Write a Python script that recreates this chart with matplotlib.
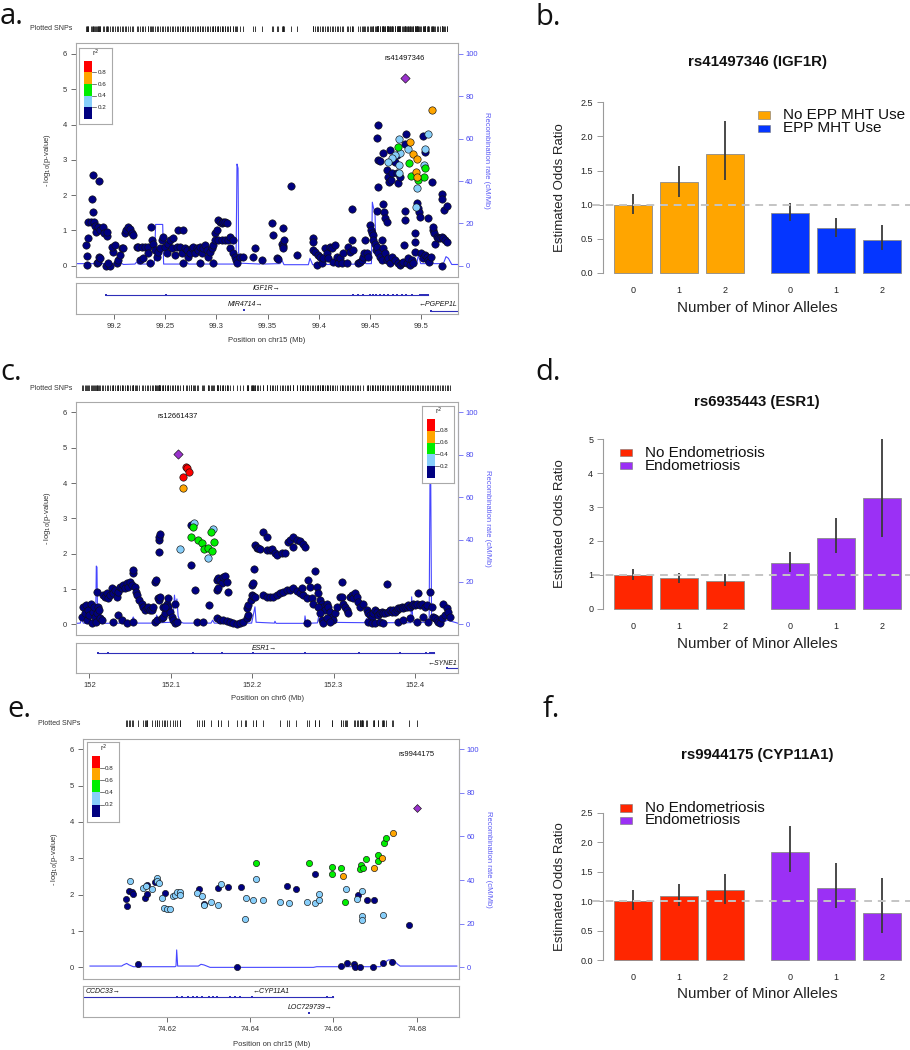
import numpy as np
import matplotlib
matplotlib.use('Agg')
import matplotlib.pyplot as plt
from matplotlib.patches import Rectangle

plt.rcParams['font.family'] = ['Liberation Sans', 'DejaVu Sans']

# ------------------------------------------------------------------
# DATA : panel a  (chr15, IGF1R region)
# ------------------------------------------------------------------
a_dark = [(99.1726,0.59),(99.1733,0.28),(99.1739,0.02),(99.1749,0.78),(99.1749,1.25),(99.1772,1.25),
 (99.1782,1.90),(99.1798,2.57),(99.1798,1.51),(99.1808,1.25),(99.1814,1.14),(99.1831,0.07),(99.1847,0.11),
 (99.1857,2.40),(99.1857,0.26),(99.1863,0.21),(99.1824,0.95),(99.1847,1.11),(99.1863,1.01),(99.1896,1.11),
 (99.1906,0.92),(99.1928,0.84),(99.1935,0.96),(99.1922,0.0),(99.1961,0.0),(99.1945,0.07),(99.1993,0.40),
 (99.1977,0.54),(99.2010,0.59),(99.2026,0.07),(99.2042,0.16),(99.2059,0.30),(99.2075,0.49),(99.2091,0.49),
 (99.2107,0.92),(99.2117,1.01),(99.2140,1.11),(99.2156,1.03),(99.2173,0.94),(99.2189,0.87),(99.2221,0.54),
 (99.2238,0.54),(99.2270,0.54),(99.2303,0.54),(99.2336,0.54),(99.2254,0.16),(99.2287,0.21),(99.2358,1.11),
 (99.2336,0.35),(99.2352,0.07),(99.2368,0.73),(99.2384,0.63),(99.2401,0.44),(99.2417,0.26),(99.2433,0.40),
 (99.2450,0.49),(99.2466,0.73),(99.2482,0.82),(99.2498,0.54),(99.2515,0.35),(99.2531,0.63),(99.2547,0.73),
 (99.2580,0.78),(99.2564,0.49),(99.2596,0.30),(99.2629,1.01),(99.2678,1.01),(99.2612,0.54),(99.2645,0.54),
 (99.2661,0.35),(99.2694,0.49),(99.2710,0.44),(99.2726,0.26),(99.2743,0.35),(99.2759,0.49),(99.2775,0.54),
 (99.2792,0.35),(99.2808,0.49),(99.2824,0.44),(99.2840,0.54),(99.2857,0.35),(99.2873,0.49),(99.2889,0.59),
 (99.2906,0.44),(99.2922,0.26),(99.2938,0.40),(99.2954,0.49),(99.2971,0.59),(99.2678,0.07),(99.2840,0.07),
 (99.2964,0.07),(99.2987,0.92),(99.3003,1.01),(99.3020,1.29),(99.3036,1.25),(99.3052,1.20),(99.3068,1.25),
 (99.3085,1.25),(99.3101,1.20),(99.2987,0.73),(99.3020,0.73),(99.3052,0.73),(99.3085,0.73),(99.3117,0.73),
 (99.3134,0.82),(99.3166,0.73),(99.3134,0.49),(99.3166,0.35),(99.3182,0.26),(99.3192,0.16),(99.3205,0.07),
 (99.3231,0.24),(99.3264,0.26),(99.3362,0.26),(99.3378,0.49),(99.3443,0.16),(99.3541,1.20),(99.3550,0.87),
 (99.3590,0.21),(99.3606,0.19),(99.3638,0.63),(99.3648,0.56),(99.3655,0.49),(99.3661,0.73),(99.3648,1.06),
 (99.3730,2.27),(99.3785,0.30),(99.3941,0.80),(99.3948,0.68),(99.3948,0.44),(99.3964,0.40),(99.3980,0.02),
 (99.3997,0.30),(99.4013,0.26),(99.4029,0.07),(99.4046,0.21),(99.4062,0.49),(99.4078,0.35),(99.4094,0.21),
 (99.4111,0.54),(99.4127,0.49),(99.4143,0.11),(99.4160,0.59),(99.4176,0.26),(99.4192,0.07),(99.4208,0.21),
 (99.4225,0.07),(99.4241,0.35),(99.4274,0.07),(99.4290,0.54),(99.4306,0.40),(99.4322,0.73),(99.4322,1.60),
 (99.4339,0.44),(99.4388,0.07),(99.4404,0.11),(99.4420,0.16),(99.4436,0.26),(99.4443,0.35),(99.4453,0.73),
 (99.4469,0.35),(99.4485,0.26),(99.4502,1.15),(99.4508,1.01),(99.4518,0.92),(99.4528,0.87),(99.4534,0.73),
 (99.4550,0.63),(99.4560,0.44),(99.4567,0.54),(99.4577,0.35),(99.4567,3.61),(99.4577,3.99),(99.4583,3.00),
 (99.4599,2.97),(99.4577,2.22),(99.4567,1.56),(99.4599,0.26),(99.4616,0.16),(99.4632,1.75),(99.4638,1.51),
 (99.4648,1.34),(99.4664,1.25),(99.4671,2.71),(99.4681,2.52),(99.4691,2.38),(99.4704,2.43),(99.4713,2.62),
 (99.4632,3.19),(99.4697,3.28),(99.4730,3.00),(99.4746,2.95),(99.4762,3.14),(99.4762,2.62),(99.4779,2.33),
 (99.4795,2.52),(99.4616,0.73),(99.4632,0.49),(99.4648,0.35),(99.4664,0.16),(99.4681,0.21),(99.4697,0.07),
 (99.4713,0.26),(99.4746,0.16),(99.4779,0.07),(99.4795,0.02),(99.4811,0.07),(99.4827,0.11),(99.4837,0.59),
 (99.4844,1.29),(99.4844,1.56),(99.4853,3.73),(99.4844,3.45),(99.4860,0.07),(99.4876,0.21),(99.4893,0.02),
 (99.4909,0.16),(99.4925,0.07),(99.4941,0.92),(99.4941,0.68),(99.4941,0.40),(99.4958,1.77),(99.4974,1.63),
 (99.4984,1.51),(99.4990,1.39),(99.4997,0.35),(99.5016,0.21),(99.5039,0.30),(99.5055,0.26),(99.5072,0.16),
 (99.5081,0.11),(99.5094,0.26),(99.5023,3.68),(99.5039,3.23),(99.5072,1.34),(99.5104,2.38),(99.5114,1.01),
 (99.5127,0.92),(99.5121,1.09),(99.5137,0.63),(99.5153,0.82),(99.5169,0.80),(99.5186,0.78),(99.5202,0.82),
 (99.5218,0.78),(99.5235,0.73),(99.5251,0.68),(99.5202,2.02),(99.5202,1.89),(99.5228,1.58),(99.5257,1.70),
 (99.5202,0.0)]
a_lblue = [(99.4785,3.58),(99.4876,3.31),(99.4795,3.20),(99.4746,3.14),(99.4713,3.04),(99.4681,2.95),
 (99.4788,2.85),(99.4788,2.62),(99.5033,2.85),(99.4964,2.19),(99.4951,1.65),(99.5068,3.73),(99.5039,3.31)]
a_green = [(99.4779,3.37),(99.4886,2.90),(99.4899,2.55),(99.4974,2.43),(99.5029,2.50),(99.5039,2.76)]
a_orange = [(99.5104,4.41),(99.4893,3.50),(99.4925,3.17),(99.4958,3.02),(99.4951,2.65),(99.4958,2.50)]
a_red = []
a_lead = (99.4844, 5.31)
a_lead_name = 'rs41497346'

a_rec_pos = [99.1629,99.1993,99.2026,99.2046,99.2065,99.2091,99.2205,99.2221,99.2238,99.2394,99.2407,
 99.2476,99.2485,99.2694,99.2710,99.2730,99.2938,99.2954,99.2971,99.3192,99.3202,99.3212,99.3218,99.3238,
 99.3427,99.3443,99.3459,99.3622,99.3642,99.3661,99.3899,99.3915,99.3941,99.4420,99.4443,99.4463,99.4515,
 99.4524,99.4537,99.4550,99.4560,99.4599,99.4648,99.4681,99.4958,99.4974,99.4997,99.5218,99.5244,99.5267,
 99.5300,99.5358]
a_rec_rate = [1.0,1.0,2.0,4.6,1.5,0.6,0.8,1.8,0.8,0.8,19.5,19.5,0.8,0.8,1.8,0.8,0.8,1.6,0.8,0.8,48,46,6,1.2,
 0.8,2.2,0.8,1.0,2.5,0.5,0.5,3.5,0.5,0.8,2.0,1.0,1.0,30,27,25,6,3,3.5,1,1,5,1,1,4.3,3.5,0.6,0.6]

a_ticks = [99.2, 99.25, 99.3, 99.35, 99.4, 99.45, 99.5]
a_ticklabels = ['99.2', '99.25', '99.3', '99.35', '99.4', '99.45', '99.5']
a_xlabel = 'Position on chr15 (Mb)'

a_genes = [
    dict(name='IGF1R\u2192', start=99.1922, end=99.5072, row=0.62, lab_x=99.3492, lab_y=0.82, ha='center',
         exons=[99.1922, 99.2505, 99.4339, 99.4388, 99.4436, 99.4502, 99.4528, 99.4560, 99.4599, 99.4638,
                99.4681, 99.4723, 99.4762, 99.4811, 99.4853, 99.4909, 99.4990, 99.5010, 99.5030, 99.5050, 99.5072]),
    dict(name='MIR4714\u2192', start=None, end=None, row=0.14, lab_x=99.3280, lab_y=0.30, ha='center',
         exons=[99.3274]),
    dict(name='\u2190PGPEP1L', start=99.5098, end=99.5358, row=0.12, lab_x=99.5350, lab_y=0.30, ha='right',
         exons=[99.5098]),
]

# ------------------------------------------------------------------
# DATA : panel c  (chr6, ESR1 region)
# ------------------------------------------------------------------
c_dark = [(151.9897,0.22),(151.9918,0.50),(151.9938,0.31),(151.9951,0.55),(151.9967,0.12),(151.9979,0.41),
 (151.9992,0.26),(152.0008,0.59),(152.0021,0.03),(152.0033,0.36),(152.0049,0.50),(152.0062,0.22),
 (152.0074,0.08),(152.0082,0.91),(152.0090,0.31),(152.0103,0.50),(152.0115,0.41),(152.0123,0.17),
 (152.0144,0.12),(152.0164,0.83),(152.0185,0.78),(152.0205,0.88),(152.0226,0.74),(152.0246,0.83),
 (152.0267,1.02),(152.0287,0.88),(152.0308,0.97),(152.0328,0.78),(152.0349,0.92),(152.0369,1.07),
 (152.0390,1.02),(152.0410,1.11),(152.0431,1.02),(152.0451,1.16),(152.0472,1.07),(152.0492,1.21),
 (152.0513,1.11),(152.0525,1.44),(152.0533,1.54),(152.0554,1.07),(152.0566,0.92),(152.0583,0.83),
 (152.0607,0.69),(152.0636,0.59),(152.0657,0.50),(152.0677,0.41),(152.0698,0.45),(152.0718,0.50),
 (152.0739,0.41),(152.0759,0.41),(152.0780,0.50),(152.0287,0.08),(152.0349,0.26),(152.0390,0.12),
 (152.0451,0.03),(152.0533,0.08),(152.0800,1.19),(152.0812,1.25),(152.0800,0.08),(152.0821,0.12),
 (152.0841,0.74),(152.0854,0.69),(152.0862,0.78),(152.0854,2.39),(152.0854,2.48),(152.0862,2.55),
 (152.0854,2.06),(152.0882,0.17),(152.0903,0.22),(152.0923,0.31),(152.0944,0.59),(152.0964,0.50),
 (152.0985,0.36),(152.1005,0.22),(152.1026,0.12),(152.1046,0.59),(152.1046,0.03),(152.1075,0.08),
 (152.0895,0.50),(152.0923,0.50),(152.0964,0.74),(152.1243,2.81),(152.1247,1.68),(152.1293,0.97),
 (152.1313,0.08),(152.1395,0.08),(152.1469,0.55),(152.1559,1.25),(152.1580,1.30),(152.1600,1.25),
 (152.1621,1.16),(152.1641,1.33),(152.1662,1.37),(152.1682,1.21),(152.1695,0.92),(152.1559,0.97),
 (152.1580,1.02),(152.1559,0.17),(152.1600,0.12),(152.1641,0.12),(152.1682,0.09),(152.1723,0.08),
 (152.1764,0.03),(152.1806,0.01),(152.1847,0.03),(152.1888,0.08),(152.1929,0.17),(152.1949,0.26),
 (152.1929,0.45),(152.1949,0.55),(152.1978,0.69),(152.1990,1.11),(152.1994,0.83),(152.2002,1.16),
 (152.2011,0.80),(152.2019,1.58),(152.2031,0.78),(152.2031,2.25),(152.2052,2.15),(152.2072,2.15),
 (152.2093,2.12),(152.2134,2.62),(152.2175,2.48),(152.2134,0.83),(152.2175,0.78),(152.2216,0.78),
 (152.2257,0.78),(152.2298,0.83),(152.2339,0.88),(152.2380,0.92),(152.2421,0.97),(152.2462,0.97),
 (152.2503,1.02),(152.2544,0.95),(152.2585,0.88),(152.2626,0.83),(152.2175,2.10),(152.2216,2.10),
 (152.2236,2.12),(152.2277,2.01),(152.2298,1.96),(152.2360,2.01),(152.2401,2.01),(152.2442,2.34),
 (152.2462,2.39),(152.2495,2.20),(152.2503,2.46),(152.2544,2.39),(152.2585,2.37),(152.2626,2.27),
 (152.2647,2.18),(152.2606,1.02),(152.2667,0.74),(152.2667,0.03),(152.2688,1.25),(152.2708,1.07),
 (152.2729,0.74),(152.2749,0.59),(152.2770,1.52),(152.2790,1.07),(152.2811,0.88),(152.2831,0.69),
 (152.2852,0.59),(152.2872,0.50),(152.2893,0.41),(152.2913,0.59),(152.2934,0.50),(152.2954,0.36),
 (152.2975,0.22),(152.2995,0.12),(152.3016,0.31),(152.3037,0.50),(152.2811,0.50),(152.2831,0.31),
 (152.2852,0.12),(152.2872,0.03),(152.2913,0.17),(152.2954,0.08),(152.3098,1.21),(152.3078,0.78),
 (152.3098,0.78),(152.3119,0.59),(152.3139,0.50),(152.3160,0.41),(152.3180,0.31),(152.3201,0.78),
 (152.3221,0.83),(152.3242,0.74),(152.3262,0.88),(152.3283,0.78),(152.3303,0.64),(152.3324,0.50),
 (152.3365,0.59),(152.3406,0.41),(152.3426,0.31),(152.3447,0.26),(152.3467,0.22),(152.3488,0.31),
 (152.3508,0.41),(152.3529,0.36),(152.3549,0.26),(152.3570,0.31),(152.3590,0.36),(152.3611,0.31),
 (152.3632,0.31),(152.3652,1.13),(152.3426,0.08),(152.3467,0.03),(152.3508,0.03),(152.3570,0.08),
 (152.3611,0.03),(152.3673,0.36),(152.3693,0.41),(152.3714,0.36),(152.3734,0.41),(152.3755,0.36),
 (152.3775,0.41),(152.3796,0.45),(152.3816,0.45),(152.3837,0.50),(152.3857,0.45),(152.3878,0.50),
 (152.3898,0.50),(152.3919,0.55),(152.3939,0.50),(152.3960,0.55),(152.3980,0.59),(152.4001,0.55),
 (152.4021,0.59),(152.4042,0.88),(152.4062,0.55),(152.4083,0.59),(152.4103,0.22),(152.4124,0.50),
 (152.4144,0.55),(152.3796,0.08),(152.3857,0.12),(152.3939,0.17),(152.4021,0.08),(152.4165,0.08),
 (152.4185,0.91),(152.4206,0.50),(152.4226,0.22),(152.4247,0.17),(152.4268,0.12),(152.4288,0.08),
 (152.4309,0.03),(152.4329,0.17),(152.4350,0.59),(152.4370,0.26),(152.4391,0.45),(152.4411,0.36),
 (152.4432,0.22)]
c_lblue = [(152.1276,2.88),(152.1112,2.13),(152.1510,2.69),(152.1457,1.87)]
c_green = [(152.1264,2.75),(152.1243,2.48),(152.1325,2.39),(152.1375,2.29),(152.1403,2.13),(152.1457,2.15),
 (152.1506,2.08),(152.1531,2.34),(152.1494,2.62)]
c_orange = [(152.1145,3.85)]
c_red = [(152.1178,4.46),(152.1198,4.42),(152.1145,4.18),(152.1223,4.30)]
c_lead = (152.1079, 4.83)
c_lead_name = 'rs12661437'

c_rec_pos = [151.9828,151.9880,151.9897,151.9918,152.0070,152.0078,152.0086,152.0094,152.0130,152.0500,
 152.0533,152.0560,152.0800,152.0821,152.0845,152.1020,152.1040,152.1055,152.1070,152.1085,152.1110,
 152.1150,152.1490,152.1510,152.1530,152.1990,152.2031,152.2045,152.2270,152.2277,152.2290,152.2640,
 152.2647,152.2660,152.2800,152.2831,152.2870,152.3380,152.3406,152.3440,152.3950,152.3960,152.3975,
 152.4175,152.4185,152.4195,152.4205,152.4250,152.4300,152.4350,152.4400,152.4534]
c_rec_rate = [0.5,0.6,2.8,0.6,0.6,27.5,27,1.0,0.5,0.6,3.5,0.6,0.6,4.4,0.8,1.0,13.8,8,12,4,1.2,0.6,0.6,2,
 0.6,0.6,8.3,1,0.6,1.5,0.5,0.5,4,0.5,0.7,6.7,1.0,0.8,2.8,0.8,0.8,13,1,1,66,66,2,1.2,2,1,2,0.5]

c_ticks = [152.0, 152.1, 152.2, 152.3, 152.4]
c_ticklabels = ['152', '152.1', '152.2', '152.3', '152.4']
c_xlabel = 'Position on chr6 (Mb)'

c_genes = [
    dict(name='ESR1\u2192', start=152.0108, end=152.4235, row=0.667, lab_x=152.2149, lab_y=0.83, ha='center',
         exons=[152.0108, 152.0232, 152.1278, 152.1628, 152.2005, 152.2650, 152.3319, 152.3812, 152.4140,
                152.4180, 152.4200, 152.4220, 152.4235]),
    dict(name='\u2190SYNE1', start=152.4400, end=152.4534, row=0.17, lab_x=152.4520, lab_y=0.33, ha='right',
         exons=[152.4400]),
]

# ------------------------------------------------------------------
# DATA : panel e  (chr15, CYP11A1 region)
# ------------------------------------------------------------------
e_dark = [(74.61024,1.88),(74.6104,1.69),(74.61104,2.10),(74.6116,2.06),(74.612,2.02),(74.6148,1.90),
 (74.6152,2.27),(74.61536,2.02),(74.6172,2.36),(74.6196,2.04),(74.62776,2.15),(74.62896,1.73),
 (74.63224,2.19),(74.6348,2.20),(74.63776,2.20),(74.64896,2.24),(74.65104,2.16),(74.65568,2.56),
 (74.666,1.99),(74.668,1.85),(74.66976,1.85),(74.67816,1.17),(74.61304,0.08),(74.63696,0.0),
 (74.66184,0.04),(74.6632,0.13),(74.66496,0.09),(74.6652,0.0),(74.6664,0.0),(74.66944,0.0),
 (74.672,0.11),(74.674,0.16)]
e_lblue = [(74.6112,2.38),(74.61424,2.19),(74.61504,2.24),(74.6164,2.16),(74.6176,2.47),(74.6178,2.38),
 (74.61824,2.31),(74.6188,1.90),(74.61936,1.64),(74.62,1.61),(74.6208,1.60),(74.62144,1.96),(74.622,1.99),
 (74.6224,2.07),(74.6232,2.07),(74.6232,1.99),(74.6272,2.04),(74.6284,1.96),(74.62896,1.72),(74.63064,1.81),
 (74.6324,1.72),(74.63296,2.28),(74.63896,1.90),(74.6388,1.33),(74.64064,1.85),(74.64144,2.42),
 (74.64304,1.85),(74.6472,1.81),(74.64936,1.78),(74.6536,1.80),(74.6556,1.76),(74.65664,2.01),
 (74.65664,1.85),(74.66304,2.16),(74.6656,1.88),(74.6668,2.10),(74.6668,1.41),(74.6668,1.30),(74.672,1.44)]
e_green = [(74.64144,2.88),(74.65416,2.88),(74.6596,2.77),(74.6596,2.57),(74.66184,2.72),(74.6628,1.79),
 (74.66656,2.82),(74.6664,2.70),(74.6672,2.74),(74.66784,2.97),(74.6708,3.09),(74.6708,2.93),
 (74.67216,3.43),(74.67264,3.55)]
e_orange = [(74.67424,3.69),(74.6716,3.00),(74.66976,2.72),(74.6624,2.50)]
e_red = []
e_lead = (74.6800, 4.38)
e_lead_name = 'rs9944175'

e_rec_pos = [74.6016,74.6092,74.6096,74.6104,74.6110,74.6120,74.6220,74.62224,74.6224,74.62264,74.6276,
 74.62824,74.62896,74.6304,74.6552,74.6560,74.6712,74.6720,74.6732,74.6744,74.67536,74.6760,74.6896]
e_rec_rate = [0.6,0.6,1.1,1.8,1.1,0.3,0.3,0.6,8.0,0.6,0.6,1.4,1.1,0.0,0.0,0.3,0.3,1.8,3.4,3.4,1.5,0.6,0.6]

e_ticks = [74.62, 74.64, 74.66, 74.68]
e_ticklabels = ['74.62', '74.64', '74.66', '74.68']
e_xlabel = 'Position on chr15 (Mb)'

e_genes = [
    dict(name='CCDC33\u2192', start=74.6000, end=74.6600, row=0.64, lab_x=74.6006, lab_y=0.82, ha='left',
         exons=[74.6224, 74.6236, 74.6252, 74.62624, 74.6272, 74.6284, 74.63024, 74.6312, 74.632, 74.6352,
                74.6364, 74.6376, 74.6404, 74.6584, 74.65984]),
    dict(name='\u2190CYP11A1', start=None, end=None, row=0.64, lab_x=74.6450, lab_y=0.82, ha='center', exons=[]),
    dict(name='LOC729739\u2192', start=None, end=None, row=0.14, lab_x=74.6544, lab_y=0.30, ha='center',
         exons=[74.6542]),
]

r2_breaks = ['0.2', '0.4', '0.6', '0.8']

# ------------------------------------------------------------------
# DATA : bar panels b, d, f
# ------------------------------------------------------------------
allele_labels = ['0', '1', '2']

b_title = 'rs41497346 (IGF1R)'
b_names = ['No EPP MHT Use', 'EPP MHT Use']
b_or_no = [1.00, 1.33, 1.75]
b_lo_no = [0.86, 1.11, 1.36]
b_hi_no = [1.16, 1.56, 2.23]
b_or_yes = [0.88, 0.66, 0.49]
b_lo_yes = [0.76, 0.53, 0.34]
b_hi_yes = [1.03, 0.81, 0.71]
b_yticks = [0.0, 0.5, 1.0, 1.5, 2.0, 2.5]

d_title = 'rs6935443 (ESR1)'
d_names = ['No Endometriosis', 'Endometriosis']
d_or_no = [1.00, 0.91, 0.83]
d_lo_no = [0.84, 0.77, 0.67]
d_hi_no = [1.17, 1.06, 1.01]
d_or_yes = [1.35, 2.10, 3.28]
d_lo_yes = [1.07, 1.65, 2.13]
d_hi_yes = [1.67, 2.69, 5.00]
d_yticks = [0, 1, 2, 3, 4, 5]

f_title = 'rs9944175 (CYP11A1)'
f_names = ['No Endometriosis', 'Endometriosis']
f_or_no = [1.00, 1.09, 1.18]
f_lo_no = [0.85, 0.91, 0.95]
f_hi_no = [1.18, 1.29, 1.46]
f_or_yes = [1.84, 1.22, 0.80]
f_lo_yes = [1.50, 0.89, 0.46]
f_hi_yes = [2.27, 1.64, 1.39]
f_yticks = [0.0, 0.5, 1.0, 1.5, 2.0, 2.5]

# ------------------------------------------------------------------
# helpers
# ------------------------------------------------------------------
W, H = 910, 1050
fig = plt.figure(figsize=(W / 100, H / 100), dpi=100)


def rect(x0, y0, x1, y1):
    return [x0 / W, 1 - y1 / H, (x1 - x0) / W, (y1 - y0) / H]


def ftext(x, y, s, **kw):
    fig.text(x / W, 1 - y / H, s, **kw)


def frect(x0, y0, x1, y1, **kw):
    fig.add_artist(Rectangle((x0 / W, 1 - y1 / H), (x1 - x0) / W, (y1 - y0) / H,
                             transform=fig.transFigure, **kw))


NAVY, LBLUE, GREEN, ORANGE, RED, PURPLE = '#000080', '#87CEFA', '#00EE00', '#FFA500', '#FF0000', '#9A32CD'
GENE_C = '#2E2EB8'
REC_C = '#4646FF'
BOX_C = '#A9A9A9'


def locus(main_px, gene_px, rug_y, snp_lab_x, xlim, ylim, ticks, ticklabels, xlabel, xlabel_y,
          ylab_x, groups, lead, lead_name, lead_px, rec_pos, rec_rate, legend_px, genes, msize):
    x0, y0, x1, y1 = main_px
    ax = fig.add_axes(rect(*main_px))
    ax2 = ax.twinx()
    ax.set_zorder(ax2.get_zorder() + 1)
    ax.patch.set_visible(False)
    ax.set_xlim(xlim)
    ax.set_ylim(ylim)
    ax2.set_ylim(ylim[0] * 100 / 6, ylim[1] * 100 / 6)
    ax2.plot(rec_pos, rec_rate, color=REC_C, lw=0.8)
    for pts, col in groups:
        if len(pts):
            p = np.array(pts)
            ax.scatter(p[:, 0], p[:, 1], s=msize, c=col, edgecolors='#111111', linewidths=0.45, zorder=3)
    ax.scatter([lead[0]], [lead[1]], s=msize * 0.8, marker='D', c=PURPLE, edgecolors='#111111',
               linewidths=0.45, zorder=4)
    ax.set_xticks([])
    ax.set_yticks(range(7))
    ax.tick_params(axis='y', labelsize=5.5, length=3.5, width=0.6, color='#555555', labelcolor='#333333', pad=3)
    for sp in ax.spines.values():
        sp.set_color(BOX_C)
        sp.set_linewidth(0.8)
    for k in ('left', 'top', 'bottom'):
        ax2.spines[k].set_visible(False)
    ax2.spines['right'].set_color('#8080F0')
    ax2.spines['right'].set_bounds(0, 100)
    ax2.spines['right'].set_linewidth(0.8)
    ax2.set_yticks([0, 20, 40, 60, 80, 100])
    ax2.tick_params(axis='y', labelsize=5.5, length=3.5, width=0.6, color='#6A6AF5', labelcolor='#4848F0', pad=2)
    ax.text(lead_px[0], lead_px[1], lead_name, fontsize=5.5, ha='center', va='center', color='#111111',
            transform=None)
    ftext(ylab_x, (y0 + y1) / 2, '- log$_{10}$(p-value)', fontsize=5.5, rotation=90, ha='center',
          va='center', color='#333333')
    ftext(x1 + 29, (y0 + y1) / 2, 'Recombination rate (cM/Mb)', fontsize=5.5, rotation=-90, ha='center',
          va='center', color='#5A5AF5')

    # r^2 legend
    lg = fig.add_axes(rect(*legend_px))
    lg.set_zorder(10)
    lg.set_xlim(0, 1)
    lg.set_ylim(0, 1)
    lg.set_xticks([])
    lg.set_yticks([])
    lg.set_facecolor('white')
    for sp in lg.spines.values():
        sp.set_color(BOX_C)
        sp.set_linewidth(0.8)
    seg = 0.154
    for i, col in enumerate([NAVY, LBLUE, GREEN, ORANGE, RED]):
        lg.add_patch(Rectangle((0.155, 0.06 + i * seg), 0.235, seg, facecolor=col, edgecolor='none'))
    for k, lab in enumerate(r2_breaks):
        yy = 0.06 + (k + 1) * seg
        lg.plot([0.39, 0.52], [yy, yy], color='#444444', lw=0.5)
        lg.text(0.56, yy, lab, fontsize=4.5, ha='left', va='center', color='#222222')
    lg.text(0.5, 0.925, 'r$^2$', fontsize=5, ha='center', va='center', color='#222222')

    # rug of plotted SNPs
    all_x = np.concatenate([np.array(pts)[:, 0] for pts, _ in groups if len(pts)] + [np.array([lead[0]])])
    rg = fig.add_axes(rect(x0, rug_y - 3.3, x1, rug_y + 3.3))
    rg.set_xlim(xlim)
    rg.set_ylim(0, 1)
    rg.axis('off')
    rg.vlines(all_x, 0, 1, color='#1a1a1a', lw=0.6)
    ftext(snp_lab_x, rug_y, 'Plotted SNPs', fontsize=5, ha='left', va='center', color='#333333')

    # gene panel
    g = fig.add_axes(rect(*gene_px))
    g.set_xlim(xlim)
    g.set_ylim(0, 1)
    g.set_yticks([])
    g.set_xticks(ticks)
    g.set_xticklabels(ticklabels)
    g.tick_params(axis='x', labelsize=5.5, length=3.5, width=0.6, color='#555555', labelcolor='#333333', pad=3)
    for sp in g.spines.values():
        sp.set_color(BOX_C)
        sp.set_linewidth(0.8)
    for gn in genes:
        if gn['start'] is not None:
            g.plot([gn['start'], gn['end']], [gn['row'], gn['row']], color=GENE_C, lw=0.8, clip_on=True)
        if gn['exons']:
            g.plot(gn['exons'], [gn['row']] * len(gn['exons']), ls='none', marker='s', ms=2.0,
                   color=GENE_C, mew=0)
        g.text(gn['lab_x'], gn['lab_y'], gn['name'], fontsize=5, style='italic', ha=gn['ha'],
               va='center', color='#111111')
    ftext((x0 + x1) / 2, xlabel_y, xlabel, fontsize=5.5, ha='center', va='center', color='#333333')


locus((76, 43.3, 457.7, 276.7), (76, 283.3, 457.7, 314.3), 29, 30, (99.1629, 99.5358), (-0.31, 6.30),
      a_ticks, a_ticklabels, a_xlabel, 340, 47.7,
      [(a_dark, NAVY), (a_lblue, LBLUE), (a_green, GREEN), (a_orange, ORANGE), (a_red, RED)],
      a_lead, a_lead_name, (405, H - 58.3), a_rec_pos, a_rec_rate, (79.3, 47.7, 111.7, 123.7), a_genes, 28)

locus((76, 401.7, 458.3, 635), (75.5, 643, 458.3, 673), 388, 30, (151.9828, 152.4534), (-0.30, 6.30),
      c_ticks, c_ticklabels, c_xlabel, 699, 47.7,
      [(c_dark, NAVY), (c_lblue, LBLUE), (c_green, GREEN), (c_orange, ORANGE), (c_red, RED)],
      c_lead, c_lead_name, (177.7, H - 416.7), c_rec_pos, c_rec_rate, (422.3, 405.7, 454, 482.7), c_genes, 28)

locus((83.3, 739, 459.3, 979), (83.3, 986, 459.3, 1017.3), 723.3, 38, (74.6000, 74.6902), (-0.32, 6.28),
      e_ticks, e_ticklabels, e_xlabel, 1044, 55,
      [(e_dark, NAVY), (e_lblue, LBLUE), (e_green, GREEN), (e_orange, ORANGE), (e_red, RED)],
      e_lead, e_lead_name, (416.7, H - 754), e_rec_pos, e_rec_rate, (87.3, 742.3, 119, 821.7), e_genes, 20)


# ------------------------------------------------------------------
# bar panels
# ------------------------------------------------------------------
def bar_panel(zero_px, top_px, top_val, yticks, ytl, no, no_lo, no_hi, yes, yes_lo, yes_hi, cols,
              title, title_y, xlab_y):
    scale = (zero_px - top_px) / top_val
    pad = 7
    ax = fig.add_axes(rect(603, top_px - pad, 910, zero_px + pad))
    ax.set_ylim(-pad / scale, top_val + pad / scale)
    unit = 38.3
    ax.set_xlim(-0.5 - 11 / unit, -0.5 + (910 - 614) / unit)
    pos_no = np.arange(3) * 1.2
    pos_yes = pos_no + 4.1
    ax.bar(pos_no, no, width=1.0, color=cols[0], edgecolor='#8a8a8a', linewidth=0.6, zorder=2)
    ax.bar(pos_yes, yes, width=1.0, color=cols[1], edgecolor='#8a8a8a', linewidth=0.6, zorder=2)
    ax.vlines(pos_no, no_lo, no_hi, color='#3a3a3a', lw=1.3, zorder=3)
    ax.vlines(pos_yes, yes_lo, yes_hi, color='#3a3a3a', lw=1.3, zorder=3)
    ax.axhline(1, xmin=-0.035, xmax=1, color='#c4c4c4', ls=(0, (4, 3)), lw=1.4, zorder=4, clip_on=False)
    for k in ('top', 'right', 'bottom'):
        ax.spines[k].set_visible(False)
    ax.spines['left'].set_bounds(0, top_val)
    ax.spines['left'].set_color('#9a9a9a')
    ax.spines['left'].set_linewidth(0.8)
    ax.set_yticks(yticks)
    ax.set_yticklabels(ytl)
    ax.tick_params(axis='y', labelsize=6.5, length=4, width=0.7, color='#9a9a9a', labelcolor='#222222', pad=3)
    ax.set_xticks(list(pos_no) + list(pos_yes))
    ax.set_xticklabels(allele_labels * 2)
    ax.tick_params(axis='x', labelsize=6.5, length=0, labelcolor='#222222', pad=4.5)
    ax.patch.set_visible(False)
    ftext(757, title_y, title, fontsize=10.8, fontweight='bold', ha='center', va='center', color='#111111')
    ftext(757, xlab_y, 'Number of Minor Alleles', fontsize=10.9, ha='center', va='center', color='#222222')
    ftext(560, (zero_px + top_px) / 2, 'Estimated Odds Ratio', fontsize=9.5, rotation=90, ha='center',
          va='center', color='#222222')
    return ax


bar_panel(273, 102.3, 2.5, b_yticks, ['0.0', '0.5', '1.0', '1.5', '2.0', '2.5'], b_or_no, b_lo_no, b_hi_no,
          b_or_yes, b_lo_yes, b_hi_yes, ['#FFA500', '#0536FF'], b_title, 61.7, 308.3)
bar_panel(608.7, 439.3, 5, d_yticks, ['0', '1', '2', '3', '4', '5'], d_or_no, d_lo_no, d_hi_no,
          d_or_yes, d_lo_yes, d_hi_yes, ['#FF2600', '#9B30F5'], d_title, 401.7, 644)
bar_panel(960, 812.7, 2.5, f_yticks, ['0.0', '0.5', '1.0', '1.5', '2.0', '2.5'], f_or_no, f_lo_no, f_hi_no,
          f_or_yes, f_lo_yes, f_hi_yes, ['#FF2600', '#9B30F5'], f_title, 755, 994.3)

# bar legends
for names, cols, sq_x, tx_x, ys in [
        (b_names, ['#FFA500', '#0536FF'], 758.3, 783, (115, 128.3)),
        (d_names, ['#FF2600', '#9B30F5'], 620, 645, (452.7, 465.7)),
        (f_names, ['#FF2600', '#9B30F5'], 620, 645, (808, 820.3))]:
    for nm, col, yy in zip(names, cols, ys):
        frect(sq_x, yy - 3.6, sq_x + 12, yy + 3.6, facecolor=col, edgecolor='#777777', linewidth=0.4)
        ftext(tx_x, yy, nm, fontsize=11, ha='left', va='center', color='#111111')

# panel letters
for lab, x, y in [('a.', 0, 24), ('b.', 535, 25), ('c.', 0, 380), ('d.', 535, 380),
                  ('e.', 7, 717), ('f.', 543, 717)]:
    ftext(x, y, lab, fontsize=21, family=['Open Sans', 'DejaVu Sans'], ha='left', va='baseline', color='#111111')

fig.savefig('out.png', dpi=100)
